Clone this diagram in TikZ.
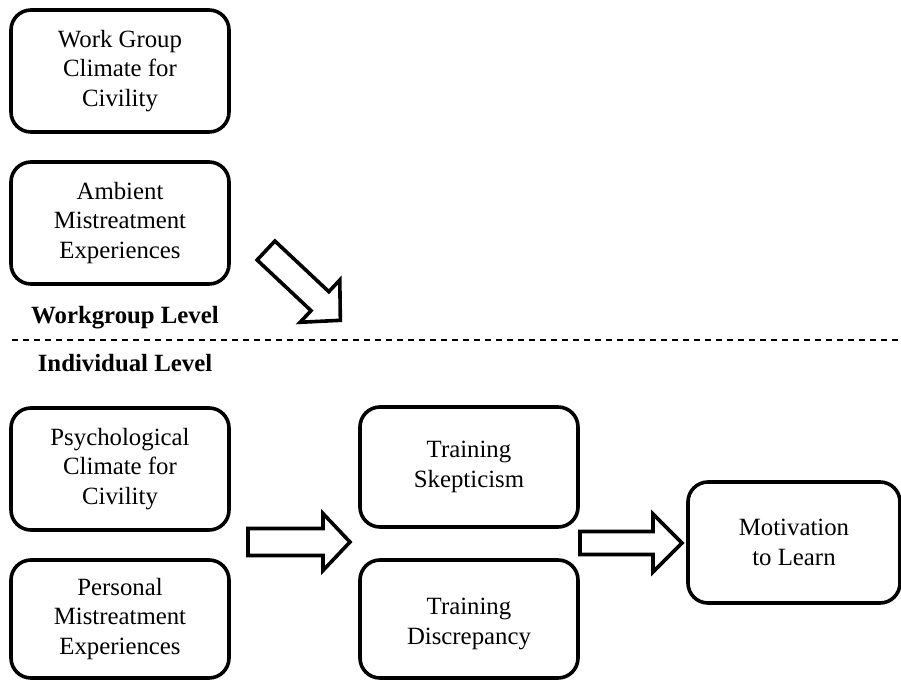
\documentclass[tikz,border=0pt]{standalone}
\usepackage{fontspec}
\setmainfont{Liberation Serif}
\usetikzlibrary{positioning}

\tikzset{
  factor/.style={draw, line width=1.8pt, rounded corners=10pt, align=center,
    minimum width=109pt, minimum height=61pt, inner sep=0pt,
    font=\fontsize{12.4}{14.8}\selectfont},
  levellabel/.style={font=\fontsize{12.4}{14.8}\selectfont\bfseries},
  blockarrow/.style={draw, line width=1.8pt, line join=miter, fill=white}
}

\begin{document}
\begin{tikzpicture}[x=0.5pt,y=-0.5pt]
\useasboundingbox (0,0) rectangle (901,680);
% workgroup level
\node[factor] (wgclimate) at (120,71) {Work Group\\Climate for\\Civility};
\node[factor] (ambient) at (120,223) {Ambient\\Mistreatment\\Experiences};
\node[levellabel] (wglabel) at (125,318) {Workgroup Level};
\draw[line width=1pt, dash pattern=on 3pt off 2.5pt] (12,340) -- (901,340);
\node[levellabel] (indlabel) at (125,363) {Individual Level};
% individual level
\node[factor] (psyclimate) at (120,469) {Psychological\\Climate for\\Civility};
\node[factor, minimum height=59pt] (personal) at (120,619) {Personal\\Mistreatment\\Experiences};
\node[factor, minimum height=60pt] (skeptic) at (469,467) {Training\\Skepticism};
\node[factor, minimum height=59pt, text height=28pt] (discrep) at (469,619) {Training\\Discrepancy};
\node[factor, minimum width=106pt, minimum height=60.5pt] (motivation) at (794,542.5) {Motivation\\to Learn};
% block arrows
\draw[blockarrow, shift={(266,250.5)}, rotate=-43.2]
  (0,-13) -- (74,-13) -- (74,-29) -- (102,0) -- (74,29) -- (74,13) -- (0,13) -- cycle;
\draw[blockarrow, shift={(248,542)}]
  (0,-13.5) -- (75,-13.5) -- (75,-28.5) -- (102,0) -- (75,28.5) -- (75,13.5) -- (0,13.5) -- cycle;
\draw[blockarrow, shift={(580,543)}]
  (0,-11.5) -- (73,-11.5) -- (73,-29) -- (102,0) -- (73,29) -- (73,11.5) -- (0,11.5) -- cycle;
\end{tikzpicture}
\end{document}
